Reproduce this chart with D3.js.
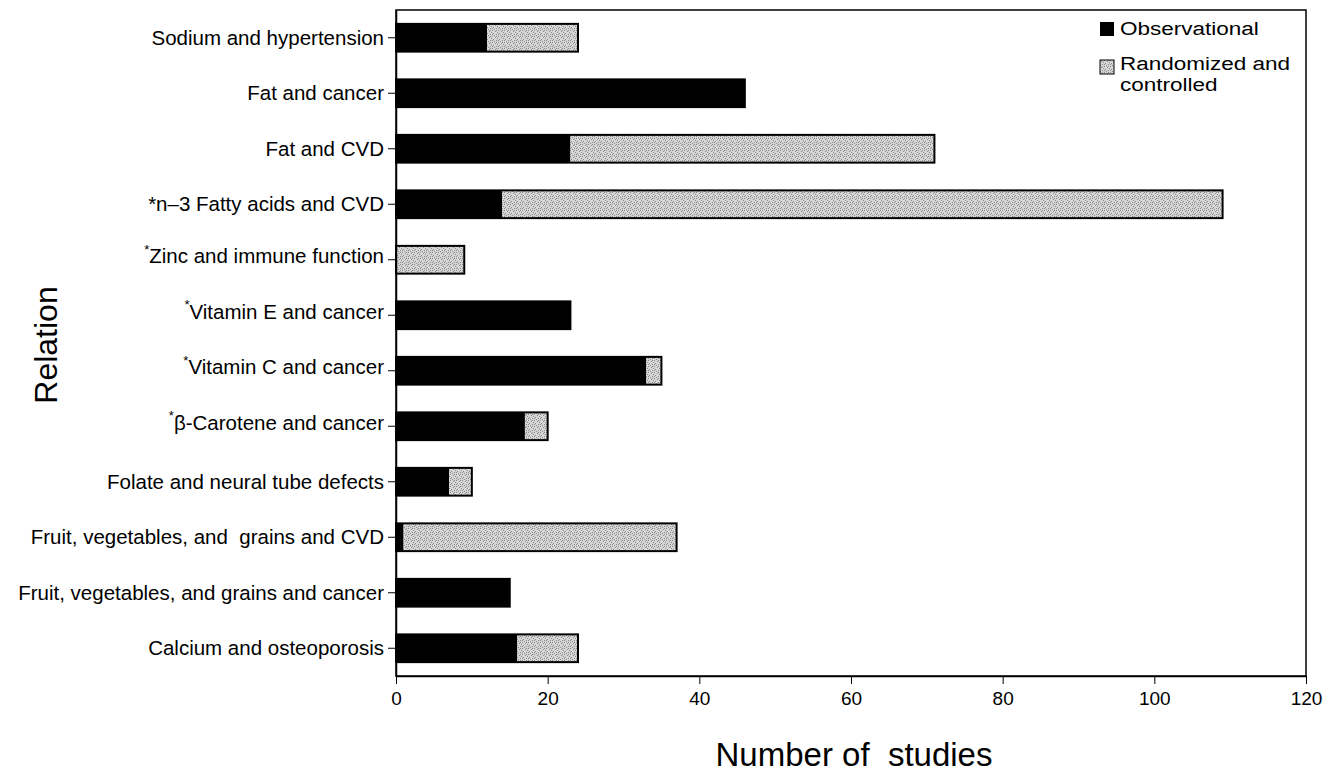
<!DOCTYPE html>
<html>
<head>
<meta charset="utf-8">
<script src="https://cdn.jsdelivr.net/npm/d3@7"></script>
<style>
  html, body { margin: 0; padding: 0; background: #fff; }
  svg { display: block; font-family: "Liberation Sans", Arial, Helvetica, sans-serif; }
</style>
</head>
<body>
<svg id="chart" width="1330" height="774"></svg>
<script>
// ---- data ----
const categories = [
  "Sodium and hypertension",
  "Fat and cancer",
  "Fat and CVD",
  "n\u20133 Fatty acids and CVD",
  "Zinc and immune function",
  "Vitamin E and cancer",
  "Vitamin C and cancer",
  "\u03B2-Carotene and cancer",
  "Folate and neural tube defects",
  "Fruit, vegetables, and  grains and CVD",
  "Fruit, vegetables, and grains and cancer",
  "Calcium and osteoporosis"
];
const starred = ["none", "none", "none", "plain", "sup", "sup", "sup", "sup", "none", "none", "none", "none"];
const observational = [12, 46, 23, 14, 0, 23, 33, 17, 7, 1, 15, 16];
const randomized    = [12, 0, 48, 95, 9, 0, 2, 3, 3, 36, 0, 8];
const xTicks = [0, 20, 40, 60, 80, 100, 120];
const seriesNames = ["Observational", "Randomized and controlled"];

// ---- layout ----
const svg = d3.select("#chart");
const mLeft = 396, mRight = 1306, mTop = 10, mBottom = 676;

const defs = svg.append("defs");
const pat = defs.append("pattern").attr("id", "stipple")
  .attr("patternUnits", "userSpaceOnUse").attr("width", 6).attr("height", 6);
pat.append("rect").attr("width", 6).attr("height", 6).attr("fill", "#d6d6d6");
[[0,0],[3,1],[1,3],[4,4],[2,5],[5,2],[0,4],[4,0]].forEach(([a,b]) =>
  pat.append("rect").attr("x", a).attr("y", b).attr("width", 1).attr("height", 1).attr("fill", "#8a8a8a"));

const x = d3.scaleLinear().domain([0, 120]).range([mLeft, mRight]);
const y = d3.scaleBand().domain(categories).range([mTop, mBottom]).paddingInner(0.5).paddingOuter(0.25);

const rows = categories.map((c, i) => ({ c, obs: observational[i], rand: randomized[i], star: starred[i] }));

// frame
svg.append("rect").attr("x", mLeft).attr("y", mTop).attr("width", mRight - mLeft).attr("height", mBottom - mTop)
  .attr("fill", "none").attr("stroke", "#000").attr("stroke-width", 1.5);

// bars
const g = svg.append("g");
g.selectAll("rect.obs").data(rows).join("rect").attr("class", "obs")
  .attr("x", x(0)).attr("y", d => y(d.c))
  .attr("width", d => x(d.obs) - x(0)).attr("height", y.bandwidth())
  .attr("fill", "#000");
g.selectAll("rect.rand").data(rows.filter(d => d.rand > 0)).join("rect").attr("class", "rand")
  .attr("x", d => x(d.obs)).attr("y", d => y(d.c))
  .attr("width", d => x(d.obs + d.rand) - x(d.obs)).attr("height", y.bandwidth())
  .attr("fill", "url(#stipple)");
g.selectAll("rect.outline").data(rows).join("rect").attr("class", "outline")
  .attr("x", x(0)).attr("y", d => y(d.c))
  .attr("width", d => x(d.obs + d.rand) - x(0)).attr("height", y.bandwidth())
  .attr("fill", "none").attr("stroke", "#000").attr("stroke-width", 2);

// x axis
const xAxis = svg.append("g").attr("transform", `translate(0,${mBottom})`)
  .call(d3.axisBottom(x).tickValues(xTicks).tickSize(8).tickPadding(8).tickSizeOuter(0));
xAxis.select(".domain").attr("stroke-width", 1.5);
xAxis.selectAll("text").attr("font-size", 19).attr("font-family", "Liberation Sans, Arial, sans-serif").attr("fill", "#000");

// y axis
const yAxis = svg.append("g").attr("transform", `translate(${mLeft},0)`)
  .call(d3.axisLeft(y).tickSize(8).tickPadding(3).tickSizeOuter(0));
yAxis.select(".domain").attr("stroke-width", 1.5);
yAxis.selectAll("text").remove();
yAxis.selectAll(".tick").each(function(d, i) {
  const r = rows[i];
  const t = d3.select(this).append("text")
    .attr("x", -12).attr("dy", "0.35em").attr("text-anchor", "end")
    .attr("font-size", 20.5).attr("fill", "#000")
    .attr("font-family", "Liberation Sans, Arial, sans-serif")
    .style("white-space", "pre");
  if (r.star === "sup") {
    t.append("tspan").attr("font-size", 13).attr("dy", "-0.45em").text("*");
    t.append("tspan").attr("dy", "0.45em").text(r.c);
  } else if (r.star === "plain") {
    t.text("*" + r.c);
  } else {
    t.text(r.c);
  }
});

// axis titles
svg.append("text").attr("x", 854).attr("y", 766).attr("text-anchor", "middle")
  .attr("font-size", 33).style("white-space", "pre").text("Number of  studies");
svg.append("text").attr("transform", "translate(57,345) rotate(-90)").attr("text-anchor", "middle")
  .attr("font-size", 32).text("Relation");

// legend
const lg = svg.append("g");
lg.append("rect").attr("x", 1100).attr("y", 22).attr("width", 14).attr("height", 14).attr("fill", "#000");
lg.append("rect").attr("x", 1100).attr("y", 60).attr("width", 14).attr("height", 14)
  .attr("fill", "url(#stipple)").attr("stroke", "#000").attr("stroke-width", 1);
const lgText = lg.append("g").attr("transform", "translate(1120,0) scale(1.25,1)");
lgText.append("text").attr("x", 0).attr("y", 35).attr("font-size", 18).text(seriesNames[0]);
lgText.append("text").attr("x", 0).attr("y", 70).attr("font-size", 18).text("Randomized and");
lgText.append("text").attr("x", 0).attr("y", 91).attr("font-size", 18).text("controlled");
</script>
</body>
</html>
